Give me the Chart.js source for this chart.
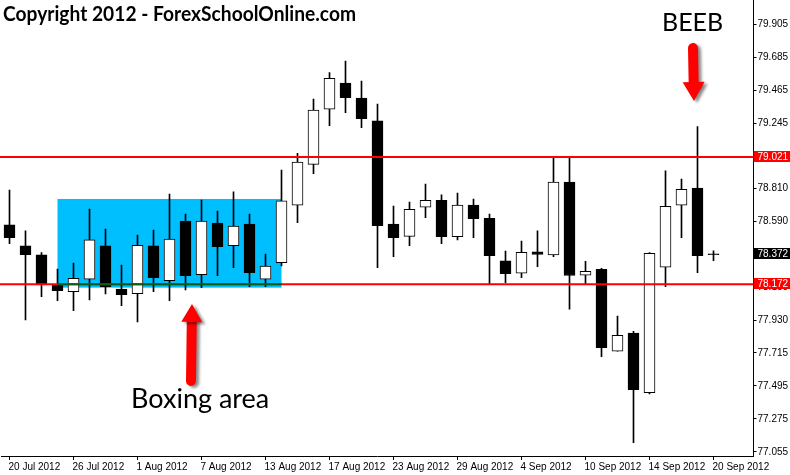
<!DOCTYPE html>
<html>
<head>
<meta charset="utf-8">
<script src="https://cdn.jsdelivr.net/npm/chart.js@4.4.0/dist/chart.umd.min.js"></script>
<style>
  html, body { margin: 0; padding: 0; background: #fff; }
  canvas { display: block; }
</style>
</head>
<body>
<canvas id="chart" width="790" height="475"></canvas>
<script>
// daily candles, 20 Jul 2012 - 20 Sep 2012
const dates = [
  '20 Jul 2012', '23 Jul 2012', '24 Jul 2012', '25 Jul 2012', '26 Jul 2012', '27 Jul 2012',
  '30 Jul 2012', '31 Jul 2012', '1 Aug 2012', '2 Aug 2012', '3 Aug 2012', '6 Aug 2012',
  '7 Aug 2012', '8 Aug 2012', '9 Aug 2012', '10 Aug 2012', '13 Aug 2012', '14 Aug 2012',
  '15 Aug 2012', '16 Aug 2012', '17 Aug 2012', '20 Aug 2012', '21 Aug 2012', '22 Aug 2012',
  '23 Aug 2012', '24 Aug 2012', '27 Aug 2012', '28 Aug 2012', '29 Aug 2012', '30 Aug 2012',
  '31 Aug 2012', '3 Sep 2012', '4 Sep 2012', '5 Sep 2012', '6 Sep 2012', '7 Sep 2012',
  '10 Sep 2012', '11 Sep 2012', '12 Sep 2012', '13 Sep 2012', '14 Sep 2012', '17 Sep 2012',
  '18 Sep 2012', '19 Sep 2012', '20 Sep 2012'
];

const opens = [
  78.568, 78.428, 78.368, 78.168, 78.123, 78.206, 78.428, 78.141, 78.110, 78.428,
  78.197, 78.594, 78.236, 78.581, 78.430, 78.574, 78.206, 78.316, 78.699, 78.972,
  79.339, 79.514, 79.414, 79.261, 78.574, 78.492, 78.686, 78.732, 78.490, 78.701,
  78.612, 78.328, 78.246, 78.388, 78.368, 78.853, 78.233, 78.272, 77.726, 77.848,
  77.450, 78.286, 78.699, 78.814, 78.376
];
const highs = [
  78.801, 78.528, 78.383, 78.274, 78.314, 78.674, 78.541, 78.301, 78.501, 78.534,
  78.774, 78.641, 78.734, 78.661, 78.788, 78.641, 78.374, 78.934, 79.045, 79.407,
  79.583, 79.660, 79.527, 79.374, 78.694, 78.721, 78.841, 78.768, 78.781, 78.741,
  78.641, 78.394, 78.461, 78.528, 79.019, 79.019, 78.326, 78.279, 77.961, 77.859,
  78.383, 78.928, 78.874, 79.223, 78.396
];
const lows = [
  78.443, 77.935, 78.090, 78.063, 77.997, 78.068, 78.108, 78.030, 77.921, 78.123,
  78.063, 78.135, 78.150, 78.230, 78.283, 78.157, 78.157, 78.294, 78.583, 78.910,
  79.229, 79.316, 79.216, 78.283, 78.356, 78.430, 78.616, 78.443, 78.468, 78.483,
  78.173, 78.183, 78.217, 78.290, 78.356, 78.006, 78.170, 77.690, 77.726, 77.117,
  77.442, 78.157, 78.483, 78.250, 78.330
];
const closes = [
  78.483, 78.370, 78.168, 78.130, 78.212, 78.468, 78.157, 78.103, 78.432, 78.217,
  78.474, 78.230, 78.594, 78.423, 78.561, 78.250, 78.294, 78.728, 78.986, 79.334,
  79.545, 79.416, 79.276, 78.563, 78.483, 78.672, 78.732, 78.490, 78.701, 78.610,
  78.363, 78.243, 78.386, 78.372, 78.853, 78.231, 78.259, 77.750, 77.833, 77.470,
  78.379, 78.692, 78.806, 78.363, 78.369
];

const yTicks = [79.905, 79.685, 79.465, 79.245, 79.025, 78.810, 78.590, 78.370,
                78.150, 77.930, 77.715, 77.495, 77.275, 77.055];
const yMin = 77.028;
const yMax = 80.067;

// horizontal levels and the boxed range
const resistance = 79.021;
const support = 78.172;
const lastPrice = 78.372;
const boxFrom = 3, boxTo = 17;
const boxLow = 78.150, boxHigh = 78.741;

const labelEvery = 4;
const axisFont = { family: 'Liberation Sans', size: 10 };

// two spare slots on the right, like the terminal leaves
const xLabels = dates.concat(['', '']);

function drawArrow(ctx, x1, y1, x2, y2, headLen, headW) {
  const ang = Math.atan2(y2 - y1, x2 - x1);
  const bx = x2 - Math.cos(ang) * headLen;
  const by = y2 - Math.sin(ang) * headLen;
  ctx.save();
  ctx.shadowColor = 'rgba(0,0,0,0.45)';
  ctx.shadowOffsetX = 3;
  ctx.shadowOffsetY = 2;
  ctx.shadowBlur = 3;
  ctx.strokeStyle = '#ff0000';
  ctx.fillStyle = '#ff0000';
  ctx.lineWidth = 10;
  ctx.lineCap = 'round';
  ctx.beginPath();
  ctx.moveTo(x1, y1);
  ctx.lineTo(bx + Math.cos(ang) * 2, by + Math.sin(ang) * 2);
  ctx.stroke();
  ctx.beginPath();
  ctx.moveTo(x2, y2);
  ctx.lineTo(bx + Math.cos(ang + Math.PI / 2) * headW / 2, by + Math.sin(ang + Math.PI / 2) * headW / 2);
  ctx.lineTo(bx - Math.cos(ang + Math.PI / 2) * headW / 2, by - Math.sin(ang + Math.PI / 2) * headW / 2);
  ctx.closePath();
  ctx.fill();
  ctx.restore();
}

const overlays = {
  id: 'overlays',
  beforeDatasetsDraw(chart) {
    const { ctx, scales: { x, y } } = chart;
    ctx.save();
    ctx.fillStyle = '#00bfff';
    const x1 = x.getPixelForValue(boxFrom), x2 = x.getPixelForValue(boxTo);
    const y1 = y.getPixelForValue(boxHigh), y2 = y.getPixelForValue(boxLow);
    ctx.fillRect(x1, y1, x2 - x1, y2 - y1);
    ctx.restore();
  },
  afterDatasetsDraw(chart) {
    const { ctx, chartArea, scales: { x, y } } = chart;
    ctx.save();
    ctx.lineWidth = 2;
    ctx.strokeStyle = '#ff0000';
    [resistance, support].forEach(v => {
      const py = y.getPixelForValue(v);
      ctx.beginPath();
      ctx.moveTo(0, py);
      ctx.lineTo(chartArea.right, py);
      ctx.stroke();
    });
    // the support line shows dark green where it runs over the box
    const py = y.getPixelForValue(support);
    ctx.strokeStyle = '#0a5c14';
    ctx.beginPath();
    ctx.moveTo(x.getPixelForValue(boxFrom), py);
    ctx.lineTo(x.getPixelForValue(boxTo), py);
    ctx.stroke();

    // price tags on the right axis
    const tag = (v, bg) => {
      const ty = Math.round(y.getPixelForValue(v));
      ctx.fillStyle = bg;
      ctx.fillRect(chartArea.right, ty - 6, chart.width - chartArea.right, 11);
      ctx.fillStyle = '#ffffff';
      ctx.font = '10px "Liberation Sans"';
      ctx.textBaseline = 'middle';
      ctx.textAlign = 'left';
      ctx.fillText(v.toFixed(3), chartArea.right + 4, ty);
    };
    tag(resistance, '#ff0000');
    tag(lastPrice, '#000000');
    tag(support, '#ff0000');
    ctx.restore();
  },
  afterDraw(chart) {
    const { ctx } = chart;
    ctx.save();
    ctx.fillStyle = '#000';
    ctx.textBaseline = 'alphabetic';
    ctx.textAlign = 'left';
    ctx.font = 'bold 20px Lato';
    ctx.fillText('Copyright 2012 - ForexSchoolOnline.com', 3, 21, 353);
    ctx.font = '25px Lato';
    ctx.fillText('BEEB', 662, 31, 64);
    ctx.font = '27px Lato';
    ctx.fillText('Boxing area', 131, 408, 141);
    ctx.restore();

    drawArrow(ctx, 693, 48, 694, 101, 19, 22);
    drawArrow(ctx, 191, 381, 192, 304, 18, 21);
  }
};

new Chart(document.getElementById('chart'), {
  type: 'bar',
  data: {
    labels: xLabels,
    datasets: [
      {
        label: 'body',
        data: opens.map((o, i) => [o, closes[i]]),
        backgroundColor: opens.map((o, i) => closes[i] > o ? '#ffffff' : '#000000'),
        borderColor: '#000000',
        borderWidth: 1,
        borderSkipped: false,
        barThickness: 11,
        grouped: false
      },
      {
        label: 'wick',
        data: lows.map((l, i) => [l, highs[i]]),
        backgroundColor: '#000000',
        borderWidth: 0,
        barThickness: 1,
        grouped: false
      }
    ]
  },
  options: {
    responsive: false,
    animation: false,
    layout: { padding: { left: 1.5, right: 0, top: 0, bottom: 0 } },
    plugins: {
      legend: { display: false },
      tooltip: { enabled: false },
      title: { display: false }
    },
    scales: {
      x: {
        type: 'category',
        offset: true,
        grid: {
          offset: false,
          drawOnChartArea: false,
          tickLength: 4,
          tickColor: c => (c.index % labelEvery === 0 && c.index < dates.length) ? '#000' : 'rgba(0,0,0,0)'
        },
        border: { display: true, color: '#000', width: 1 },
        ticks: {
          autoSkip: false,
          maxRotation: 0,
          minRotation: 0,
          align: 'start',
          labelOffset: -1,
          padding: 1,
          color: '#000',
          font: axisFont,
          callback: (v, i) => (i % labelEvery === 0 && i < dates.length) ? dates[i] : ''
        },
        afterFit: s => {
          s.height = 19;
          s.paddingLeft = 0;
          s.paddingRight = 0;
        }
      },
      y: {
        type: 'linear',
        position: 'right',
        min: yMin,
        max: yMax,
        afterBuildTicks: s => { s.ticks = yTicks.map(v => ({ value: v })); },
        grid: { drawOnChartArea: false, tickLength: 3, color: '#000' },
        border: { display: true, color: '#000', width: 1 },
        ticks: {
          autoSkip: false,
          padding: 1,
          color: '#000',
          font: axisFont,
          callback: v => Number(v).toFixed(3)
        },
        afterFit: s => {
          s.width = 36.5;
          s.paddingTop = 0;
          s.paddingBottom = 0;
        }
      }
    }
  },
  plugins: [overlays]
});
</script>
</body>
</html>
